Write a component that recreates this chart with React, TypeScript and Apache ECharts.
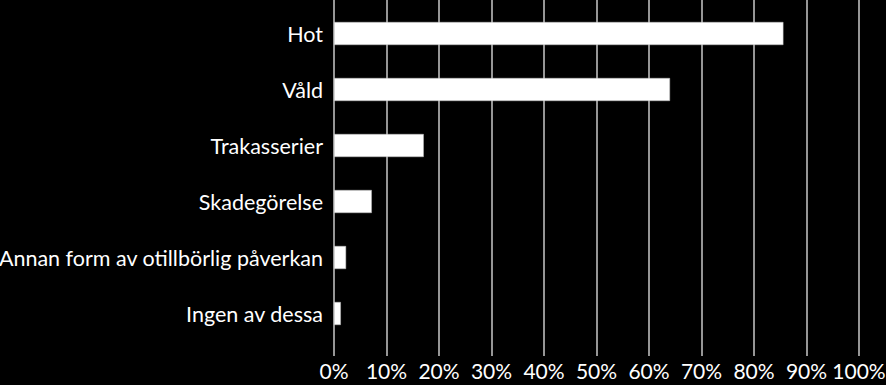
import React, { useEffect, useRef } from "react";
import * as echarts from "echarts";

const categories = [
  "Hot",
  "Våld",
  "Trakasserier",
  "Skadegörelse",
  "Annan form av otillbörlig påverkan",
  "Ingen av dessa",
];
const values = [85.6, 64.0, 17.1, 7.2, 2.3, 1.3];
const tickMin = 0;
const tickMax = 100;
const tickStep = 10;

export default function App() {
  const ref = useRef<HTMLDivElement>(null);
  useEffect(() => {
    if (!ref.current) return;
    const chart = echarts.init(ref.current, undefined, { renderer: "svg" });
    const font = "Lato, 'Liberation Sans', sans-serif";
    chart.setOption({
      animation: false,
      backgroundColor: "#000",
      grid: [
        { left: 334, right: 27, top: 0, height: 356, containLabel: false, outerBoundsMode: "none" },
        { left: 334, right: 27, top: 5.5, height: 336, containLabel: false, outerBoundsMode: "none" },
      ],
      xAxis: [
        {
          type: "value",
          gridIndex: 0,
          min: tickMin,
          max: tickMax,
          interval: tickStep,
          axisLine: { show: false },
          axisTick: { show: false },
          splitLine: { show: true, lineStyle: { color: "#c8c8c8", width: 1.5 } },
          axisLabel: {
            color: "#fff",
            fontFamily: font,
            fontSize: 21,
            margin: 4,
            formatter: (v: number) => `${v}%`,
          },
        },
        {
          type: "value",
          gridIndex: 1,
          min: tickMin,
          max: tickMax,
          interval: tickStep,
          show: false,
          splitLine: { show: false },
        },
      ],
      yAxis: [
        {
          type: "category",
          gridIndex: 0,
          data: categories,
          show: false,
        },
        {
          type: "category",
          gridIndex: 1,
          data: categories,
          inverse: true,
          axisLine: { show: false },
          axisTick: { show: false },
          splitLine: { show: false },
          axisLabel: {
            color: "#fff",
            fontFamily: font,
            fontSize: 21.5,
            margin: 11,
            padding: [0, 0, 9, 0],
          },
        },
      ],
      series: [
        {
          type: "bar",
          xAxisIndex: 1,
          yAxisIndex: 1,
          data: values,
          barWidth: 23,
          itemStyle: { color: "#fff", borderColor: "#bbb", borderWidth: 0.5 },
        },
      ],
    });
    return () => chart.dispose();
  }, []);
  return (
    <div
      ref={ref}
      style={{ position: "fixed", left: 0, top: 0, width: 886, height: 385, background: "#000" }}
    />
  );
}
